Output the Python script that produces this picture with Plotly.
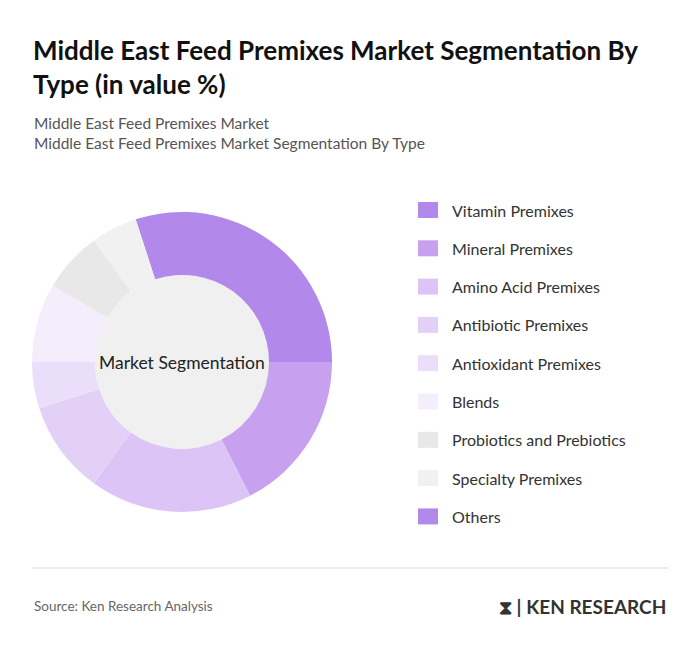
import plotly.graph_objects as go

W, H = 700, 653
OFF = 8  # page body margin offset

labels = ["Vitamin Premixes", "Mineral Premixes", "Amino Acid Premixes", "Antibiotic Premixes",
          "Antioxidant Premixes", "Blends", "Probiotics and Prebiotics", "Specialty Premixes", "Others"]
values = [30, 17.5, 17.5, 10, 5, 8.5, 6.5, 5, 0]
colors = ["#b388eb", "#c8a0f0", "#dcc4f6", "#e3d0f7", "#ebdefa", "#f4eefc", "#e8e8e8", "#f1f1f1", "#b388eb"]


def px(x):
    return (x - OFF) / W


def py(y):
    return 1 - (y - OFF) / H


cx, cy, r, rh = 182, 362, 150, 87

fig = go.Figure(go.Pie(
    labels=labels, values=values, hole=rh / r, sort=False, direction="clockwise",
    rotation=-18, marker={"colors": colors, "line": {"width": 0}},
    textinfo="none", hoverinfo="label+percent", showlegend=False,
    domain={"x": [px(cx - r), px(cx + r)], "y": [py(cy + r), py(cy - r)]},
))

shapes = [
    dict(type="circle", xref="paper", yref="paper", layer="below",
         x0=px(cx - rh), x1=px(cx + rh), y0=py(cy + rh), y1=py(cy - rh),
         fillcolor="#f0f0f0", line={"width": 0}),
    dict(type="line", xref="paper", yref="paper", x0=px(32), x1=px(668), y0=py(568), y1=py(568),
         line={"color": "#d9d9d9", "width": 1}),
]
annotations = [
    dict(text="Market Segmentation", x=px(cx), y=py(cy), xref="paper", yref="paper",
         xanchor="center", yanchor="middle",
         showarrow=False, font={"size": 17.5, "color": "#222"}),
    dict(text="<b>Middle East Feed Premixes Market Segmentation By<br>Type (in value %)</b>",
         x=px(31), y=py(32), xref="paper", yref="paper", xanchor="left", yanchor="top", align="left",
         showarrow=False, font={"size": 26, "color": "#111"}),
    dict(text="Middle East Feed Premixes Market<br>Middle East Feed Premixes Market Segmentation By Type",
         x=px(32), y=py(112), xref="paper", yref="paper", xanchor="left", yanchor="top", align="left",
         showarrow=False, font={"size": 15.5, "color": "#555"}),
    dict(text="Source: Ken Research Analysis", x=px(32), y=py(606), xref="paper", yref="paper",
         xanchor="left", yanchor="middle", showarrow=False, font={"size": 13.5, "color": "#666"}),
    dict(text="<b>⧗ | KEN RESEARCH</b>", x=px(668), y=py(606), xref="paper", yref="paper",
         xanchor="right", yanchor="middle", showarrow=False, font={"size": 19, "color": "#333"}),
]

for i, (lab, col) in enumerate(zip(labels, colors)):
    y = 210 + i * 38.3
    shapes.append(dict(type="rect", xref="paper", yref="paper", x0=px(418), x1=px(438),
                       y0=py(y + 8), y1=py(y - 8), fillcolor=col, line={"width": 0}))
    annotations.append(dict(text=lab, x=px(450), y=py(y), xref="paper", yref="paper",
                            xanchor="left", yanchor="middle", showarrow=False,
                            font={"size": 16, "color": "#333"}))

fig.update_layout(
    width=W, height=H, margin={"l": 0, "r": 0, "t": 0, "b": 0},
    paper_bgcolor="white", plot_bgcolor="white",
    font={"family": "Lato, Roboto, sans-serif"},
    shapes=shapes, annotations=annotations,
)

fig.write_html("out.html")
